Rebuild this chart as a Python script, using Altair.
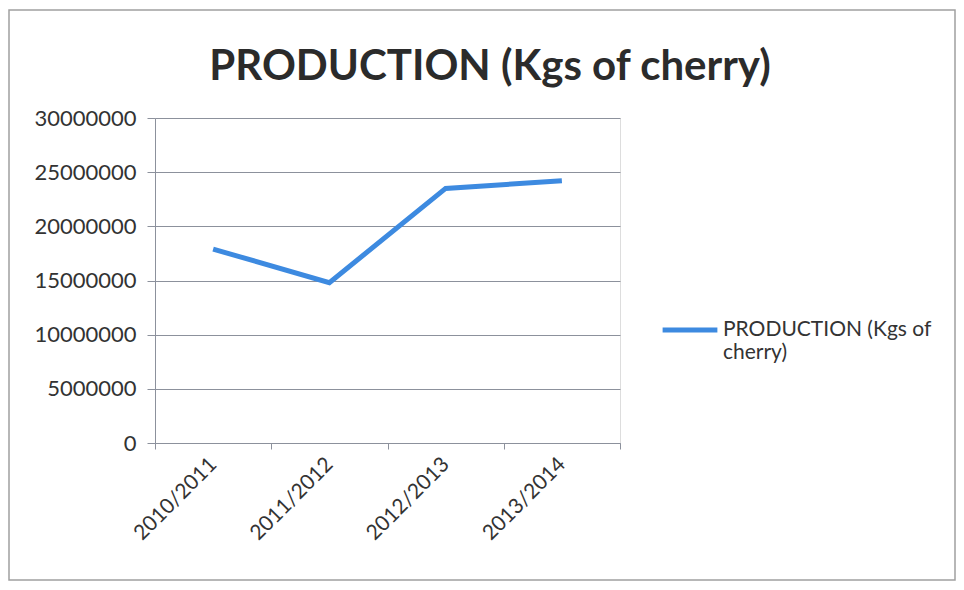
import altair as alt
import pandas as pd

seasons = ["2010/2011", "2011/2012", "2012/2013", "2013/2014"]
production = [17900000, 14800000, 23500000, 24200000]
series_name = "PRODUCTION (Kgs of cherry)"

df = pd.DataFrame({"season": seasons, "value": production, "series": [series_name] * len(seasons)})

FONT = "Lato"
GRID = "#8c919c"

line = alt.Chart(df).mark_line(strokeWidth=5, color="#3d8ae0").encode(
    x=alt.X("season:N", sort=seasons,
            scale=alt.Scale(type="band", paddingInner=0, paddingOuter=0),
            axis=alt.Axis(title=None, labelAngle=-45, labelAlign="right", labelBaseline="middle",
                          tickBand="extent", grid=False, tickSize=6, labelPadding=12,
                          labelFontSize=21, labelColor="#333333", labelFont=FONT,
                          domainColor=GRID, tickColor=GRID)),
    y=alt.Y("value:Q", scale=alt.Scale(domain=[0, 30000000]),
            axis=alt.Axis(title=None, values=[0, 5000000, 10000000, 15000000, 20000000, 25000000, 30000000],
                          format="d", tickSize=8, labelPadding=11, labelFontSize=22,
                          labelColor="#333333", labelFont=FONT, gridColor=GRID,
                          domainColor=GRID, tickColor=GRID)),
    stroke=alt.Stroke("series:N", scale=alt.Scale(range=["#3d8ae0"]),
                      legend=alt.Legend(title=None, orient="none", legendX=505, legendY=182,
                                        symbolType="stroke", symbolSize=3000, symbolStrokeWidth=5,
                                        labelFontSize=21, labelFont=FONT, labelColor="#333333",
                                        labelExpr="['PRODUCTION (Kgs of', 'cherry)']",
                                        labelOffset=3, labelLimit=400, labelBaseline="middle"))
)

single = pd.DataFrame({"title": [series_name]})
frame = alt.Chart(single).mark_rect(fill=None, stroke="#a0a0a0", strokeWidth=1.5).encode(
    x=alt.value(-146), x2=alt.value(800), y=alt.value(-108), y2=alt.value(462)
)
title = alt.Chart(single).mark_text(fontSize=42, font=FONT, fontWeight="bold", color="#2b2b2b",
                                    align="center", baseline="alphabetic").encode(
    text="title:N", x=alt.value(335), y=alt.value(-38)
)

chart = alt.layer(frame, title, line).properties(
    width=465, height=325,
    autosize=alt.AutoSizeParams(type="none"),
    padding={"left": 147, "top": 110, "right": 336, "bottom": 139},
).configure_view(stroke=None).configure(background="white")

chart.save("out.html", embed_options={"renderer": "svg", "actions": False})
